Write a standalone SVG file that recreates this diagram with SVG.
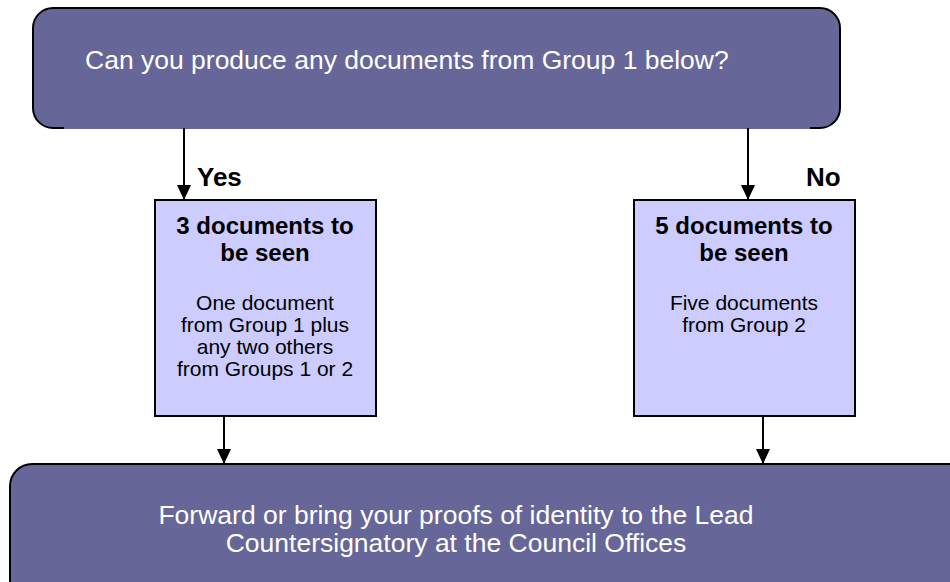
<svg xmlns="http://www.w3.org/2000/svg" width="950" height="582" viewBox="0 0 950 582">
<defs>
<marker id="ah" markerWidth="15" markerHeight="14" refX="15" refY="7" orient="auto" markerUnits="userSpaceOnUse" viewBox="0 0 15 14">
<path d="M0,0 L15,7 L0,14 z" fill="#000"/>
</marker>
<style>
.dark{fill:#666699;stroke:#000;stroke-width:2}
.light{fill:#CCCCFF;stroke:#000;stroke-width:2}
.wt{font-family:"Liberation Sans",Arial,sans-serif;fill:#fff;font-size:26.5px;text-anchor:middle}
.bt{font-family:"Liberation Sans",Arial,sans-serif;fill:#000;font-size:24px;font-weight:bold;text-anchor:middle}
.nt{font-family:"Liberation Sans",Arial,sans-serif;fill:#000;font-size:21px;text-anchor:middle}
.lbl{font-family:"Liberation Sans",Arial,sans-serif;fill:#000;font-size:26px;font-weight:bold}
.c{stroke:#000;stroke-width:2;fill:none;marker-end:url(#ah)}
</style>
</defs>
<g id="question">
<rect class="dark" x="33" y="8" width="807" height="120" rx="20" ry="20"/>
<rect x="64" y="126" width="746" height="3" fill="#666699"/>
<text class="wt" x="85" y="69" style="text-anchor:start">Can you produce any documents from Group 1 below?</text>
</g>
<g id="yes-box">
<rect class="light" x="155" y="200" width="221" height="216"/>
<text class="bt" x="265" y="234">3 documents to</text>
<text class="bt" x="265" y="261">be seen</text>
<text class="nt" x="265" y="310">One document</text>
<text class="nt" x="265" y="332">from Group 1 plus</text>
<text class="nt" x="265" y="354">any two others</text>
<text class="nt" x="265" y="376">from Groups 1 or 2</text>
</g>
<g id="no-box">
<rect class="light" x="634" y="200" width="221" height="216"/>
<text class="bt" x="744" y="234">5 documents to</text>
<text class="bt" x="744" y="261">be seen</text>
<text class="nt" x="744" y="310">Five documents</text>
<text class="nt" x="744" y="332">from Group 2</text>
</g>
<g id="result">
<rect class="dark" x="10" y="464" width="960" height="140" rx="22" ry="22"/>
<text class="wt" x="456" y="524">Forward or bring your proofs of identity to the Lead</text>
<text class="wt" x="456" y="552">Countersignatory at the Council Offices</text>
</g>
<g id="connectors">
<line class="c" x1="184" y1="128" x2="184" y2="200"/>
<line class="c" x1="748" y1="128" x2="748" y2="200"/>
<line class="c" x1="224" y1="417" x2="224" y2="464"/>
<line class="c" x1="763" y1="417" x2="763" y2="464"/>
<text class="lbl" x="197" y="186">Yes</text>
<text class="lbl" x="806" y="186">No</text>
</g>
</svg>
